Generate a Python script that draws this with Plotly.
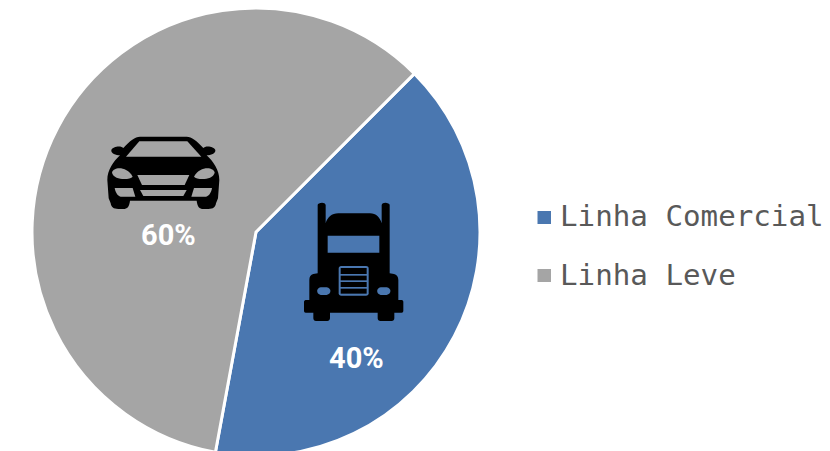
import re
import plotly.graph_objects as go

categories = ["Linha Comercial", "Linha Leve"]
shares = [40.4, 59.6]
share_labels = ["40%", "60%"]
colors = ["#4a77b0", "#a5a5a5"]

W, H = 830, 464
BLUE, GRAY = colors


def px(x, y):
    return x / W, 1 - y / H


def to_paper(path, ox=0, oy=0, s=1.0):
    nums = iter(re.findall(r"-?\d+\.?\d*|[A-Za-z]", path))
    out = []
    for tok in nums:
        if tok.isalpha():
            out.append(tok)
        else:
            x = ox + float(tok) * s
            y = oy + float(next(nums)) * s
            a, b = px(x, y)
            out.append(f"{a:.5f},{b:.5f}")
    return " ".join(out)


def icon(path, fill, ox, oy):
    return dict(type="path", xref="paper", yref="paper", layer="above",
                path=to_paper(path, ox, oy, 1 / 3), fillcolor=fill,
                line=dict(width=0, color=fill))


car_body = ("M150 50 L290 50 C305 50 320 62 340 84 C345 76 372 78 376 90 C378 100 362 106 350 106 "
            "C370 125 388 150 388 180 L384 235 C382 240 380 245 378 250 C376 262 370 267 355 267 "
            "L340 267 C328 267 322 260 320 242 L120 242 C118 260 112 267 100 267 L85 267 "
            "C70 267 64 262 62 250 C60 245 58 240 56 235 L52 180 C52 150 70 125 90 106 "
            "C78 106 62 100 64 90 C68 78 95 76 100 84 C120 62 135 50 150 50 Z")
car_holes = [
    "M108 110 L148 64 L292 64 L334 110 Z",
    "M66 158 C70 140 110 138 128 170 C120 180 72 182 66 158 Z",
    "M374 158 C370 140 330 138 312 170 C320 180 368 182 374 158 Z",
    "M142 165 L298 165 L284 195 L156 195 Z",
    "M150 210 L290 210 L280 228 L160 228 Z",
    "M74 204 L128 204 L136 230 L92 230 C82 228 76 216 74 204 Z",
    "M366 204 L312 204 L304 230 L348 230 C358 228 364 216 366 204 Z",
]
truck_body = ("M83 45 C83 38 105 34 107 45 L107 100 C112 82 125 70 145 70 L240 70 C258 70 270 82 275 100 "
              "L275 45 C277 34 299 38 299 45 L299 250 L312 252 C320 254 325 260 325 270 L325 330 "
              "L335 330 C339 330 340 333 340 336 L340 362 C340 366 338 368 335 368 L313 368 "
              "L313 385 C313 390 310 393 305 393 L272 393 C266 393 263 390 263 385 L263 368 "
              "L120 368 L120 385 C120 390 116 393 112 393 L78 393 C73 393 70 390 70 385 L70 368 "
              "L47 368 C44 368 42 366 42 362 L42 336 C42 333 44 330 47 330 L58 330 L58 270 "
              "C58 260 62 254 70 252 L83 250 Z")
truck_holes = [
    "M113 137 L268 137 L268 188 L113 188 Z",
    "M92 292 L110 292 C125 295 125 312 110 315 L92 315 C78 312 78 295 92 292 Z",
    "M272 292 L290 292 C305 295 305 312 290 315 L272 315 C258 312 258 295 272 292 Z",
    "M154 228 L228 228 C234 228 236 231 236 236 L236 310 C236 314 233 317 228 317 L154 317 "
    "C149 317 146 314 146 310 L146 236 C146 231 149 228 154 228 Z",
]
truck_grille = ["M152 234 L230 234 L230 252 L152 252 Z",
                "M152 257 L230 257 L230 271 L152 271 Z",
                "M152 276 L230 276 L230 291 L152 291 Z",
                "M152 296 L230 296 L230 311 L152 311 Z"]

shapes = [icon(car_body, "#000000", 90, 120)]
shapes += [icon(p, GRAY, 90, 120) for p in car_holes]
shapes += [icon(truck_body, "#000000", 290, 190)]
shapes += [icon(p, BLUE, 290, 190) for p in truck_holes]
shapes += [icon(p, "#000000", 290, 190) for p in truck_grille]

# legend swatches
for yc, c in zip([217.5, 275.5], colors):
    x0, y1 = px(537.5, yc + 6.5)
    x1, y0 = px(551, yc - 6.5)
    shapes.append(dict(type="rect", xref="paper", yref="paper", x0=x0, x1=x1, y0=y1, y1=y0,
                       fillcolor=c, line=dict(width=0)))

annotations = []
for (x, y), t in zip([(356, 358), (168.5, 235)], share_labels):
    a, b = px(x, y)
    annotations.append(dict(x=a, y=b, xref="paper", yref="paper", text=f"<b>{t}</b>", showarrow=False,
                            font=dict(family="Roboto", size=29, color="#ffffff"),
                            xanchor="center", yanchor="middle"))
for y, t in zip([216, 274.5], categories):
    a, b = px(558, y)
    annotations.append(dict(x=a, y=b, xref="paper", yref="paper", text=t, showarrow=False,
                            font=dict(family="DejaVu Sans Mono", size=29.2, color="#595959"),
                            xanchor="left", yanchor="middle"))

fig = go.Figure(go.Pie(
    labels=categories, values=shares, sort=False, direction="clockwise", rotation=45,
    marker=dict(colors=colors, line=dict(color="#ffffff", width=3)),
    textinfo="none", showlegend=False,
    domain=dict(x=[32 / W, 480 / W], y=[1 - 456 / H, 1 - 8 / H]),
))
fig.update_layout(width=W, height=H, margin=dict(l=0, r=0, t=0, b=0), paper_bgcolor="#ffffff",
                  plot_bgcolor="#ffffff", shapes=shapes, annotations=annotations)
fig.write_html("out.html", config={"displayModeBar": False},
               post_script="document.documentElement.style.overflow='hidden';document.body.style.overflow='hidden';document.body.style.margin='0';")
